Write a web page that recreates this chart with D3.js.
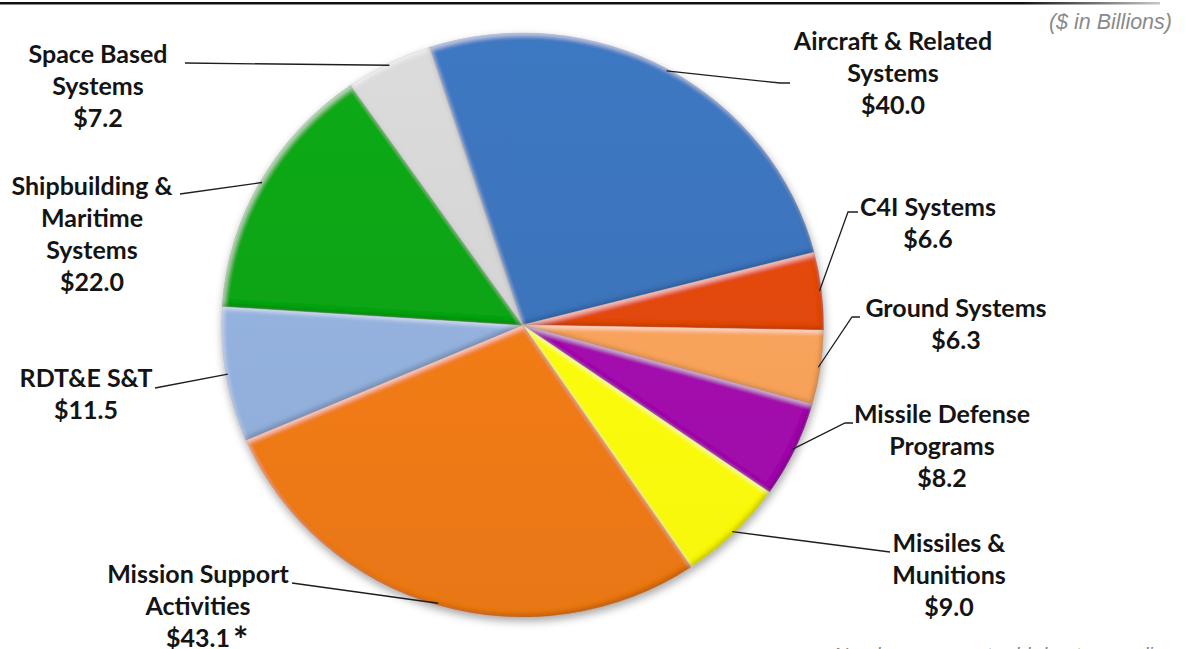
<!DOCTYPE html>
<html>
<head>
<meta charset="utf-8">
<script src="https://cdn.jsdelivr.net/npm/d3@7/dist/d3.min.js"></script>
<style>
  html, body { margin: 0; padding: 0; background: #fff; }
  svg { display: block; }
  .lbl { font-family: Lato, "Open Sans", sans-serif; font-weight: 700; fill: #141414; }
  .note { font-family: "Liberation Sans", Arial, sans-serif; font-style: italic; fill: #8a8a8a; }
</style>
</head>
<body>
<svg id="chart" width="1186" height="649"></svg>
<script>
// FY budget by acquisition category ($ in billions), clockwise from the top
const categories = [
  "Aircraft & Related Systems", "C4I Systems", "Ground Systems",
  "Missile Defense Programs", "Missiles & Munitions", "Mission Support Activities",
  "RDT&E S&T", "Shipbuilding & Maritime Systems", "Space Based Systems"
];
const values = [40.0, 6.6, 6.3, 8.2, 9.0, 43.1, 11.5, 22.0, 7.2];
const labelLines = [
  ["Aircraft & Related", "Systems"],
  ["C4I Systems"],
  ["Ground Systems"],
  ["Missile Defense", "Programs"],
  ["Missiles &", "Munitions"],
  ["Mission Support", "Activities"],
  ["RDT&E S&T"],
  ["Shipbuilding &", "Maritime", "Systems"],
  ["Space Based", "Systems"]
];
const sliceColors = [
  "#3b73ba", "#e0470d", "#f9a25a", "#a20fac", "#fefe10",
  "#f07a16", "#93b0dc", "#10a312", "#d3d3d3"
];

// label placement: text centre x, first baseline y, leader elbow points
const labelLayout = [
  { x: 893, y: 50,  leader: [[790, 83], [780, 83]] },
  { x: 928, y: 216, leader: [[858, 212], [848, 212]] },
  { x: 956, y: 317, leader: [[860, 317], [852, 317]] },
  { x: 942, y: 423, leader: [[853, 423], [845, 423]] },
  { x: 949, y: 552, leader: [[890, 552]] },
  { x: 198, y: 583, leader: [[292, 583]] },
  { x: 86,  y: 387, leader: [[155, 388]] },
  { x: 92,  y: 195, leader: [[180, 194]] },
  { x: 98,  y: 63,  leader: [[185, 63]] }
];

const svg = d3.select("#chart");
const cx = 522.5, cy = 325, R = 301, squash = 0.97;
const lineGap = 32;

const defs = svg.append("defs");

// bevel: light edge on upper-left facing sides, shade on lower-right
const bevel = defs.append("filter").attr("id", "bevel")
  .attr("x", "-10%").attr("y", "-10%").attr("width", "120%").attr("height", "120%");
bevel.append("feGaussianBlur").attr("in", "SourceAlpha").attr("stdDeviation", 2).attr("result", "blur");
bevel.append("feOffset").attr("in", "blur").attr("dx", 2).attr("dy", 3).attr("result", "offA");
bevel.append("feComposite").attr("in", "SourceAlpha").attr("in2", "offA").attr("operator", "out").attr("result", "edgeA");
bevel.append("feFlood").attr("flood-color", "#ffffff").attr("flood-opacity", 0.5);
bevel.append("feComposite").attr("in2", "edgeA").attr("operator", "in").attr("result", "hi");
bevel.append("feOffset").attr("in", "blur").attr("dx", -2).attr("dy", -3).attr("result", "offB");
bevel.append("feComposite").attr("in", "SourceAlpha").attr("in2", "offB").attr("operator", "out").attr("result", "edgeB");
bevel.append("feFlood").attr("flood-color", "#000000").attr("flood-opacity", 0.35);
bevel.append("feComposite").attr("in2", "edgeB").attr("operator", "in").attr("result", "sh");
const bm = bevel.append("feMerge");
bm.append("feMergeNode").attr("in", "SourceGraphic");
bm.append("feMergeNode").attr("in", "hi");
bm.append("feMergeNode").attr("in", "sh");

// soft shadow under the whole pie
const drop = defs.append("filter").attr("id", "drop")
  .attr("x", "-10%").attr("y", "-10%").attr("width", "120%").attr("height", "125%");
drop.append("feDropShadow").attr("dx", 1).attr("dy", 4).attr("stdDeviation", 4)
  .attr("flood-color", "#000").attr("flood-opacity", 0.35);

// per-slice vertical shading
sliceColors.forEach((c, i) => {
  const g = defs.append("linearGradient").attr("id", "grad" + i)
    .attr("gradientUnits", "userSpaceOnUse")
    .attr("x1", 0).attr("y1", -R).attr("x2", 0).attr("y2", R);
  g.append("stop").attr("offset", "0%").attr("stop-color", d3.color(c).brighter(0.12));
  g.append("stop").attr("offset", "100%").attr("stop-color", d3.color(c).darker(0.08));
});

// rule fading out toward the right
const rule = defs.append("linearGradient").attr("id", "rule")
  .attr("x1", "0%").attr("x2", "100%");
rule.append("stop").attr("offset", "0%").attr("stop-color", "#111");
rule.append("stop").attr("offset", "88%").attr("stop-color", "#111");
rule.append("stop").attr("offset", "100%").attr("stop-color", "#c8c8c8");

svg.append("rect").attr("x", 0).attr("y", 2).attr("width", 1160).attr("height", 2.5)
  .attr("fill", "url(#rule)");

const data = categories.map((name, i) => ({ name, value: values[i], i }));

const startA = -18 * Math.PI / 180;
const pie = d3.pie().value(d => d.value).sort(null)
  .startAngle(startA).endAngle(startA + 2 * Math.PI);
const arcs = pie(data);
const arc = d3.arc().innerRadius(0).outerRadius(R);

const pieG = svg.append("g")
  .attr("filter", "url(#drop)")
  .append("g")
  .attr("transform", `translate(${cx},${cy}) scale(1,${squash})`);

pieG.selectAll("path.slice").data(arcs).join("path")
  .attr("class", "slice")
  .attr("d", arc)
  .attr("fill", d => `url(#grad${d.data.i})`)
  .attr("stroke", d => d3.color(sliceColors[d.data.i]).darker(0.6))
  .attr("stroke-width", 0.6)
  .attr("stroke-opacity", 0.6)
  .attr("filter", "url(#bevel)");

// leader lines from the label elbow to the slice's outer midpoint
const edgePoint = (d) => {
  const a = (d.startAngle + d.endAngle) / 2;
  const r = R - 2;
  return [cx + r * Math.sin(a), cy - r * squash * Math.cos(a)];
};

const leaders = svg.append("g");
arcs.forEach((d, k) => {
  const pts = labelLayout[k].leader.concat([edgePoint(d)]);
  leaders.append("path")
    .attr("d", d3.line()(pts))
    .attr("fill", "none")
    .attr("stroke", "#1e1e1e")
    .attr("stroke-width", 1.3);
});

// labels: name lines followed by the dollar value
const labels = svg.append("g");
arcs.forEach((d, k) => {
  const lay = labelLayout[k];
  const lines = labelLines[d.data.i].concat(["$" + d.data.value.toFixed(1)]);
  const t = labels.append("text").attr("class", "lbl")
    .attr("text-anchor", "middle").attr("font-size", 25);
  lines.forEach((s, j) => {
    t.append("tspan").attr("x", lay.x).attr("y", lay.y + j * lineGap).text(s);
  });
  if (d.data.name === "Mission Support Activities") {
    const last = lay.y + (lines.length - 1) * lineGap;
    labels.append("text").attr("class", "lbl")
      .attr("x", lay.x + 35).attr("y", last + 6)
      .attr("font-size", 36).text("*");
  }
});

svg.append("text").attr("class", "note")
  .attr("x", 1172).attr("y", 29).attr("text-anchor", "end")
  .attr("font-size", 21.5).text("($ in Billions)");

svg.append("text").attr("class", "note")
  .attr("x", 1175).attr("y", 662).attr("text-anchor", "end")
  .attr("font-size", 20).text("Numbers may not add due to rounding");
</script>
</body>
</html>
